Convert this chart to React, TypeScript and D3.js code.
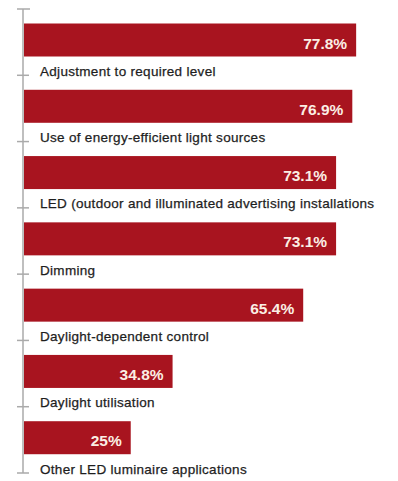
import React from "react";
import * as d3 from "d3";

const categories = [
  "Adjustment to required level",
  "Use of energy-efficient light sources",
  "LED (outdoor and illuminated advertising installations",
  "Dimming",
  "Daylight-dependent control",
  "Daylight utilisation",
  "Other LED luminaire applications",
];
const values = [77.8, 76.9, 73.1, 73.1, 65.4, 34.8, 25];
const valueLabels = ["77.8%", "76.9%", "73.1%", "73.1%", "65.4%", "34.8%", "25%"];

const W = 398;
const H = 481;
const axisX = 23;
const top = 9;
const bottom = 473;

export default function App() {
  const x = d3.scaleLinear().domain([0, 78]).range([axisX + 1, 357]);
  const y = d3
    .scaleBand<number>()
    .domain(d3.range(categories.length))
    .range([top, bottom]);
  const step = y.step();
  return (
    <svg
      width={W}
      height={H}
      style={{ position: "absolute", left: 0, top: 0, background: "#fff" }}
      fontFamily="Liberation Sans, Arial, sans-serif"
    >
      <line x1={axisX} x2={axisX} y1={top} y2={bottom} stroke="#aaa" strokeWidth={1.5} />
      <line x1={17} x2={30} y1={top} y2={top} stroke="#aaa" strokeWidth={1.5} />
      {categories.map((c, i) => {
        const b = y(i)!;
        const t = b + step;
        return (
          <g key={c}>
            <rect
              x={x(0)}
              y={b + 14.5}
              width={x(values[i]) - x(0)}
              height={33}
              fill="#a8141f"
            />
            <text
              x={x(values[i]) - 9}
              y={b + 39.5}
              textAnchor="end"
              fill="#fbeee4"
              fontWeight="bold"
              fontSize={15.5}
            >
              {valueLabels[i]}
            </text>
            <text
              x={40}
              y={t + 0.5}
              fill="#1e1e1e"
              fontSize={13.5}
              letterSpacing={0.3}
              stroke="#1e1e1e"
              strokeWidth={0.25}
            >
              {c}
            </text>
            <line x1={17} x2={29} y1={t} y2={t} stroke="#aaa" strokeWidth={1.5} />
          </g>
        );
      })}
    </svg>
  );
}
